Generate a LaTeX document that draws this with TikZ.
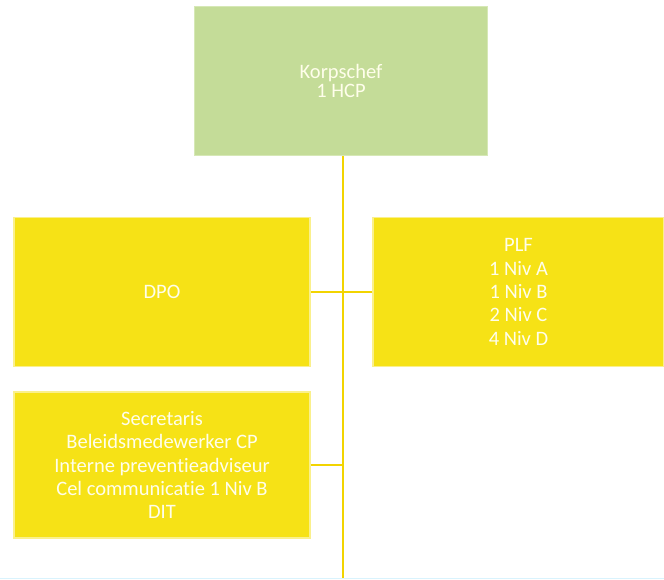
\documentclass[tikz,border=0pt]{standalone}
\usepackage{fontspec}
\setmainfont[Ligatures=NoCommon]{Carlito}
\usepackage{xcolor}
\usepackage{tikz}
\usetikzlibrary{calc,positioning}
\definecolor{colorChef}{RGB}{196,220,152}
\definecolor{colorUnit}{RGB}{246,226,22}
\definecolor{colorLink}{RGB}{242,212,0}
\definecolor{colorRim}{RGB}{250,240,140}
\definecolor{colorRimG}{RGB}{214,232,182}
\tikzset{
   every path/.style={>=stealth},
   unit/.style={rectangle, fill=colorUnit, draw=colorRim, line width=1.5pt, text=white!92!yellow,
     align=center, font=\fontsize{20.5}{23.3}\selectfont, inner sep=0pt},
   chef/.style={unit, fill=colorChef, draw=colorRimG, font=\fontsize{20.5}{19.5}\selectfont},
   link/.style={draw=colorLink, line width=1.6pt},
}
\begin{document}
\begin{tikzpicture}[x=1pt,y=-1pt]
  \useasboundingbox (0,0) rectangle (664,579);
  \node [chef, minimum width=293pt, minimum height=149pt] (korps) at (341,81) {Korpschef\\1 HCP};
  \node [unit, minimum width=296pt, minimum height=149pt] (dpo) at (162,292) {DPO};
  \node [unit, minimum width=291pt, minimum height=149pt] (plf) at (518.5,292) {PLF\\1 Niv A\\1 Niv B\\2 Niv C\\4 Niv D};
  \node [unit, minimum width=296pt, minimum height=146pt] (staf) at (162,465) {Secretaris\\Beleidsmedewerker CP\\Interne preventieadviseur\\Cel communicatie 1 Niv B\\DIT};
  \coordinate (stam) at (343,579);

  \begin{scope}[link]
   \draw (korps.south -| stam) -- (stam);
   \draw (dpo.east) -- (dpo.east -| stam);
   \draw (plf.west) -- (plf.west -| stam);
   \draw (staf.east) -- (staf.east -| stam);
  \end{scope}

  \draw [cyan!15, line width=1pt] (0,578) -- (664,578);
\end{tikzpicture}
\end{document}
